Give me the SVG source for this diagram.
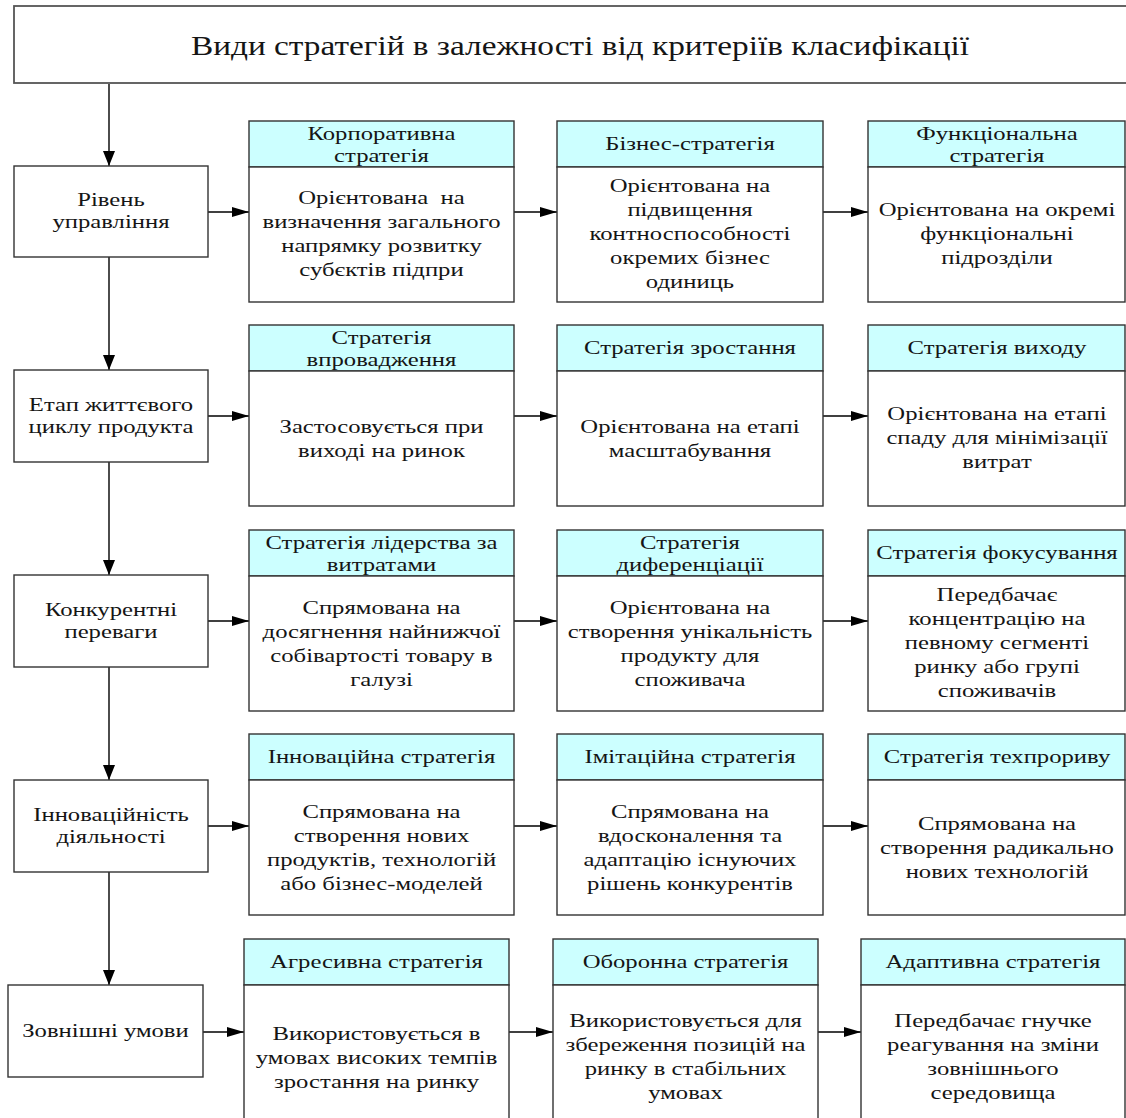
<svg xmlns="http://www.w3.org/2000/svg" width="1126" height="1118" viewBox="0 0 1126 1118">
<style>
.bg{fill:#ffffff}
.box{fill:#ffffff;stroke:#333333;stroke-width:1.4}
.hdr{fill:#ccffff;stroke:#333333;stroke-width:1.4}
.tbox{fill:#ffffff;stroke:#555555;stroke-width:1.8}
.t{font-family:"Liberation Serif","Times New Roman",serif;font-size:19px;fill:#151515;text-anchor:middle}
.tt{font-size:28px}
.c{stroke:#000000;stroke-width:1.4;fill:none}
</style>
<defs>
<marker id="mh" markerUnits="userSpaceOnUse" markerWidth="17" markerHeight="10" refX="17" refY="5" orient="auto"><path d="M0,0 L17,5 L0,10 z" fill="#000"/></marker>
<marker id="mv" markerUnits="userSpaceOnUse" markerWidth="15" markerHeight="12" refX="15" refY="6" orient="auto"><path d="M0,0 L15,6 L0,12 z" fill="#000"/></marker>
</defs>
<rect class="bg" x="0" y="0" width="1126" height="1118"/>

<g id="connectors">
<path class="c" d="M109,84 V166" marker-end="url(#mv)"/>
<path class="c" d="M109,257 V370" marker-end="url(#mv)"/>
<path class="c" d="M109,462 V575" marker-end="url(#mv)"/>
<path class="c" d="M109,667 V780" marker-end="url(#mv)"/>
<path class="c" d="M109,872 V985" marker-end="url(#mv)"/>
<path class="c" d="M208,212 H249" marker-end="url(#mh)"/>
<path class="c" d="M514,212 H557" marker-end="url(#mh)"/>
<path class="c" d="M823,212 H868" marker-end="url(#mh)"/>
<path class="c" d="M208,416 H249" marker-end="url(#mh)"/>
<path class="c" d="M514,416 H557" marker-end="url(#mh)"/>
<path class="c" d="M823,416 H868" marker-end="url(#mh)"/>
<path class="c" d="M208,621 H249" marker-end="url(#mh)"/>
<path class="c" d="M514,621 H557" marker-end="url(#mh)"/>
<path class="c" d="M823,621 H868" marker-end="url(#mh)"/>
<path class="c" d="M208,826 H249" marker-end="url(#mh)"/>
<path class="c" d="M514,826 H557" marker-end="url(#mh)"/>
<path class="c" d="M823,826 H868" marker-end="url(#mh)"/>
<path class="c" d="M203,1032 H244" marker-end="url(#mh)"/>
<path class="c" d="M509,1032 H553" marker-end="url(#mh)"/>
<path class="c" d="M818,1032 H861" marker-end="url(#mh)"/>
</g>

<g id="title">
<rect class="tbox" x="14" y="6" width="1130" height="77"/>
<text class="t tt" transform="matrix(1.19 0 0 1 580 0)"><tspan x="0" y="55">Види стратегій в залежності від критеріїв класифікації</tspan></text>
</g>

<!-- Row 1 -->
<g id="r1-crit">
<rect class="box" x="14" y="166" width="194" height="91"/>
<text class="t" transform="matrix(1.3 0 0 1 111 0)"><tspan x="0" y="206">Рівень</tspan><tspan x="0" y="228">управління</tspan></text>
</g>
<g id="r1-c1">
<rect class="hdr" x="249" y="121" width="265" height="46"/>
<rect class="box" x="249" y="167" width="265" height="135"/>
<text class="t" transform="matrix(1.3 0 0 1 381.5 0)"><tspan x="0" y="140">Корпоративна</tspan><tspan x="0" y="162">стратегія</tspan></text>
<text class="t" transform="matrix(1.3 0 0 1 381.5 0)"><tspan x="0" y="204">Орієнтована&#160; на</tspan><tspan x="0" y="228">визначення загального</tspan><tspan x="0" y="252">напрямку розвитку</tspan><tspan x="0" y="276">субєктів підпри</tspan></text>
</g>
<g id="r1-c2">
<rect class="hdr" x="557" y="121" width="266" height="46"/>
<rect class="box" x="557" y="167" width="266" height="135"/>
<text class="t" transform="matrix(1.3 0 0 1 690 0)"><tspan x="0" y="150">Бізнес-стратегія</tspan></text>
<text class="t" transform="matrix(1.3 0 0 1 690 0)"><tspan x="0" y="192">Орієнтована на</tspan><tspan x="0" y="216">підвищення</tspan><tspan x="0" y="240">контноспособності</tspan><tspan x="0" y="264">окремих бізнес</tspan><tspan x="0" y="288">одиниць</tspan></text>
</g>
<g id="r1-c3">
<rect class="hdr" x="868" y="121" width="257" height="46"/>
<rect class="box" x="868" y="167" width="257" height="135"/>
<text class="t" transform="matrix(1.3 0 0 1 997 0)"><tspan x="0" y="140">Функціональна</tspan><tspan x="0" y="162">стратегія</tspan></text>
<text class="t" transform="matrix(1.3 0 0 1 997 0)"><tspan x="0" y="216">Орієнтована на окремі</tspan><tspan x="0" y="240">функціональні</tspan><tspan x="0" y="264">підрозділи</tspan></text>
</g>

<!-- Row 2 -->
<g id="r2-crit">
<rect class="box" x="14" y="370" width="194" height="92"/>
<text class="t" transform="matrix(1.3 0 0 1 111 0)"><tspan x="0" y="411">Етап життєвого</tspan><tspan x="0" y="433">циклу продукта</tspan></text>
</g>
<g id="r2-c1">
<rect class="hdr" x="249" y="325" width="265" height="46"/>
<rect class="box" x="249" y="371" width="265" height="135"/>
<text class="t" transform="matrix(1.3 0 0 1 381.5 0)"><tspan x="0" y="344">Стратегія</tspan><tspan x="0" y="366">впровадження</tspan></text>
<text class="t" transform="matrix(1.3 0 0 1 381.5 0)"><tspan x="0" y="433">Застосовується при</tspan><tspan x="0" y="457">виході на ринок</tspan></text>
</g>
<g id="r2-c2">
<rect class="hdr" x="557" y="325" width="266" height="46"/>
<rect class="box" x="557" y="371" width="266" height="135"/>
<text class="t" transform="matrix(1.3 0 0 1 690 0)"><tspan x="0" y="354">Стратегія зростання</tspan></text>
<text class="t" transform="matrix(1.3 0 0 1 690 0)"><tspan x="0" y="433">Орієнтована на етапі</tspan><tspan x="0" y="457">масштабування</tspan></text>
</g>
<g id="r2-c3">
<rect class="hdr" x="868" y="325" width="257" height="46"/>
<rect class="box" x="868" y="371" width="257" height="135"/>
<text class="t" transform="matrix(1.3 0 0 1 997 0)"><tspan x="0" y="420">Орієнтована на етапі</tspan><tspan x="0" y="444">спаду для мінімізації</tspan><tspan x="0" y="468">витрат</tspan></text>
<text class="t" transform="matrix(1.3 0 0 1 997 0)"><tspan x="0" y="354">Стратегія виходу</tspan></text>
</g>

<!-- Row 3 -->
<g id="r3-crit">
<rect class="box" x="14" y="575" width="194" height="92"/>
<text class="t" transform="matrix(1.3 0 0 1 111 0)"><tspan x="0" y="616">Конкурентні</tspan><tspan x="0" y="638">переваги</tspan></text>
</g>
<g id="r3-c1">
<rect class="hdr" x="249" y="530" width="265" height="46"/>
<rect class="box" x="249" y="576" width="265" height="135"/>
<text class="t" transform="matrix(1.3 0 0 1 381.5 0)"><tspan x="0" y="549">Стратегія лідерства за</tspan><tspan x="0" y="571">витратами</tspan></text>
<text class="t" transform="matrix(1.3 0 0 1 381.5 0)"><tspan x="0" y="614">Спрямована на</tspan><tspan x="0" y="638">досягнення найнижчої</tspan><tspan x="0" y="662">собівартості товару в</tspan><tspan x="0" y="686">галузі</tspan></text>
</g>
<g id="r3-c2">
<rect class="hdr" x="557" y="530" width="266" height="46"/>
<rect class="box" x="557" y="576" width="266" height="135"/>
<text class="t" transform="matrix(1.3 0 0 1 690 0)"><tspan x="0" y="549">Стратегія</tspan><tspan x="0" y="571">диференціації</tspan></text>
<text class="t" transform="matrix(1.3 0 0 1 690 0)"><tspan x="0" y="614">Орієнтована на</tspan><tspan x="0" y="638">створення унікальність</tspan><tspan x="0" y="662">продукту для</tspan><tspan x="0" y="686">споживача</tspan></text>
</g>
<g id="r3-c3">
<rect class="hdr" x="868" y="530" width="257" height="46"/>
<rect class="box" x="868" y="576" width="257" height="135"/>
<text class="t" transform="matrix(1.3 0 0 1 997 0)"><tspan x="0" y="559">Стратегія фокусування</tspan></text>
<text class="t" transform="matrix(1.3 0 0 1 997 0)"><tspan x="0" y="601">Передбачає</tspan><tspan x="0" y="625">концентрацію на</tspan><tspan x="0" y="649">певному сегменті</tspan><tspan x="0" y="673">ринку або групі</tspan><tspan x="0" y="697">споживачів</tspan></text>
</g>

<!-- Row 4 -->
<g id="r4-crit">
<rect class="box" x="14" y="780" width="194" height="92"/>
<text class="t" transform="matrix(1.3 0 0 1 111 0)"><tspan x="0" y="821">Інноваційність</tspan><tspan x="0" y="843">діяльності</tspan></text>
</g>
<g id="r4-c1">
<rect class="hdr" x="249" y="734" width="265" height="46"/>
<rect class="box" x="249" y="780" width="265" height="135"/>
<text class="t" transform="matrix(1.3 0 0 1 381.5 0)"><tspan x="0" y="763">Інноваційна стратегія</tspan></text>
<text class="t" transform="matrix(1.3 0 0 1 381.5 0)"><tspan x="0" y="818">Спрямована на</tspan><tspan x="0" y="842">створення нових</tspan><tspan x="0" y="866">продуктів, технологій</tspan><tspan x="0" y="890">або бізнес-моделей</tspan></text>
</g>
<g id="r4-c2">
<rect class="hdr" x="557" y="734" width="266" height="46"/>
<rect class="box" x="557" y="780" width="266" height="135"/>
<text class="t" transform="matrix(1.3 0 0 1 690 0)"><tspan x="0" y="763">Імітаційна стратегія</tspan></text>
<text class="t" transform="matrix(1.3 0 0 1 690 0)"><tspan x="0" y="818">Спрямована на</tspan><tspan x="0" y="842">вдосконалення та</tspan><tspan x="0" y="866">адаптацію існуючих</tspan><tspan x="0" y="890">рішень конкурентів</tspan></text>
</g>
<g id="r4-c3">
<rect class="hdr" x="868" y="734" width="257" height="46"/>
<rect class="box" x="868" y="780" width="257" height="135"/>
<text class="t" transform="matrix(1.3 0 0 1 997 0)"><tspan x="0" y="763">Стратегія техпрориву</tspan></text>
<text class="t" transform="matrix(1.3 0 0 1 997 0)"><tspan x="0" y="830">Спрямована на</tspan><tspan x="0" y="854">створення радикально</tspan><tspan x="0" y="878">нових технологій</tspan></text>
</g>

<!-- Row 5 -->
<g id="r5-crit">
<rect class="box" x="8" y="985" width="195" height="92"/>
<text class="t" transform="matrix(1.3 0 0 1 105.5 0)"><tspan x="0" y="1037">Зовнішні умови</tspan></text>
</g>
<g id="r5-c1">
<rect class="hdr" x="244" y="939" width="265" height="46"/>
<rect class="box" x="244" y="985" width="265" height="145"/>
<text class="t" transform="matrix(1.3 0 0 1 376.5 0)"><tspan x="0" y="968">Агресивна стратегія</tspan></text>
<text class="t" transform="matrix(1.3 0 0 1 376.5 0)"><tspan x="0" y="1040">Використовується в</tspan><tspan x="0" y="1064">умовах високих темпів</tspan><tspan x="0" y="1088">зростання на ринку</tspan></text>
</g>
<g id="r5-c2">
<rect class="hdr" x="553" y="939" width="265" height="46"/>
<rect class="box" x="553" y="985" width="265" height="145"/>
<text class="t" transform="matrix(1.3 0 0 1 685.5 0)"><tspan x="0" y="968">Оборонна стратегія</tspan></text>
<text class="t" transform="matrix(1.3 0 0 1 685.5 0)"><tspan x="0" y="1027">Використовується для</tspan><tspan x="0" y="1051">збереження позицій на</tspan><tspan x="0" y="1075">ринку в стабільних</tspan><tspan x="0" y="1099">умовах</tspan></text>
</g>
<g id="r5-c3">
<rect class="hdr" x="861" y="939" width="264" height="46"/>
<rect class="box" x="861" y="985" width="264" height="145"/>
<text class="t" transform="matrix(1.3 0 0 1 993 0)"><tspan x="0" y="968">Адаптивна стратегія</tspan></text>
<text class="t" transform="matrix(1.3 0 0 1 993 0)"><tspan x="0" y="1027">Передбачає гнучке</tspan><tspan x="0" y="1051">реагування на зміни</tspan><tspan x="0" y="1075">зовнішнього</tspan><tspan x="0" y="1099">середовища</tspan></text>
</g>
</svg>
